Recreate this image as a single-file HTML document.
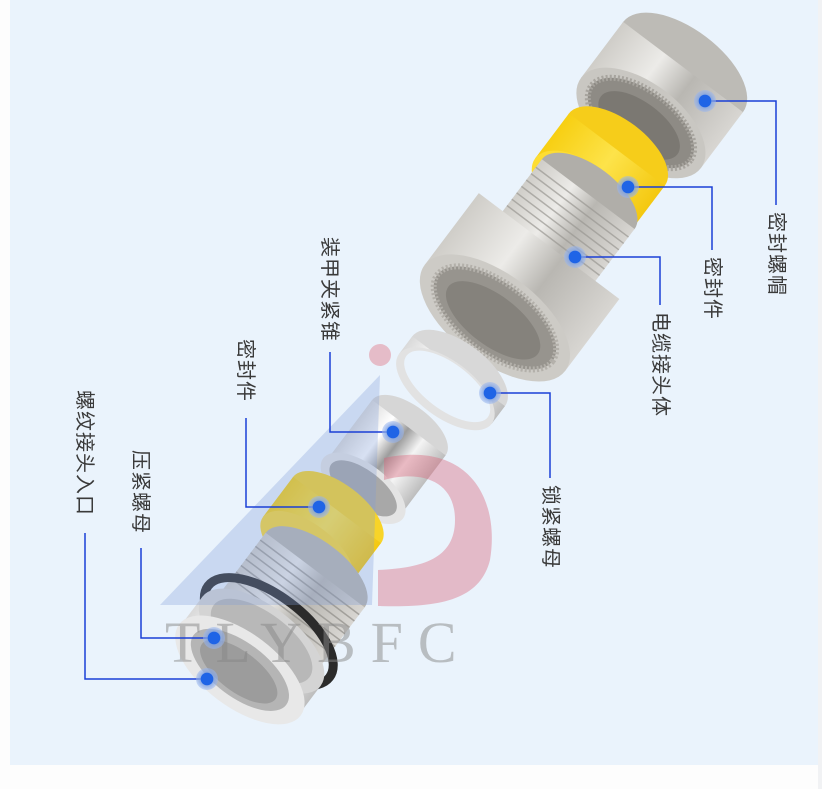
<!DOCTYPE html>
<html><head><meta charset="utf-8"><style>
html,body{margin:0;padding:0;background:#fdfdfd;}
body{width:822px;height:789px;position:relative;overflow:hidden;font-family:"Liberation Sans","Noto Sans CJK SC",sans-serif;}
#panel{position:absolute;left:10px;top:0;width:808px;height:765px;background:#eaf3fc;}
#strip{position:absolute;left:818px;top:0;width:4px;height:789px;background:#f1f2f4;}
svg{position:absolute;left:0;top:0;}
.lb{position:absolute;writing-mode:vertical-rl;text-orientation:sideways;font-size:20px;color:#3a3a3a;letter-spacing:1px;line-height:22px;}
</style></head><body>
<div id="panel"></div><div id="strip"></div>
<svg width="822" height="789" viewBox="0 0 822 789">
<defs>
<linearGradient id="met" x1="0" x2="1" y1="0" y2="0">
<stop offset="0" stop-color="#cfcdc8"/><stop offset=".35" stop-color="#ecebe8"/><stop offset=".6" stop-color="#b9b7b2"/><stop offset="1" stop-color="#d8d6d2"/></linearGradient>
<linearGradient id="shiny" x1="0" x2="1" y1="0" y2="0">
<stop offset="0" stop-color="#d9d9d9"/><stop offset=".3" stop-color="#ffffff"/><stop offset=".5" stop-color="#9c9c9c"/><stop offset=".7" stop-color="#f4f4f4"/><stop offset="1" stop-color="#bdbdbd"/></linearGradient>
<linearGradient id="yel" x1="0" x2="1" y1="0" y2="0">
<stop offset="0" stop-color="#f7cf12"/><stop offset=".5" stop-color="#fde34a"/><stop offset="1" stop-color="#f4c810"/></linearGradient>
<radialGradient id="dot"><stop offset=".55" stop-color="#1f64e6"/><stop offset=".6" stop-color="#7ea2e6" stop-opacity=".8"/><stop offset="1" stop-color="#9ab6ee" stop-opacity=".5"/></radialGradient>
</defs>

<!-- 1 top nut -->
<g transform="translate(662,95) rotate(37)">
<ellipse cx="0" cy="-35" rx="75" ry="38" fill="#bdbbb6"/>
<rect x="-75" y="-35" width="150" height="70" fill="url(#met)"/>
<ellipse cx="0" cy="35" rx="75" ry="40" fill="#c9c7c2"/>
<ellipse cx="0" cy="35" rx="62" ry="32" fill="#8e8b85" stroke="#a7a49e" stroke-width="6" stroke-dasharray="2 2"/>
<ellipse cx="0" cy="38" rx="48" ry="23" fill="#7b7872"/>
</g>
<!-- 2 yellow seal -->
<g transform="translate(600,172) rotate(37)">
<ellipse cx="0" cy="-28" rx="60" ry="30" fill="#f6cd1a"/>
<rect x="-60" y="-28" width="120" height="56" fill="url(#yel)"/>
<ellipse cx="0" cy="28" rx="60" ry="31" fill="#fddd33"/>
<ellipse cx="-5" cy="30" rx="28" ry="16" fill="#f2c200"/>
</g>
<!-- 3 body -->
<g transform="translate(522,282) rotate(37)">
<ellipse cx="0" cy="-110" rx="58" ry="28" fill="#b0aea9"/>
<rect x="-58" y="-110" width="116" height="70" fill="url(#met)"/>
<g stroke="#9a9893" stroke-width="1.5" opacity=".7"><line x1="-58" y1="-100" x2="58" y2="-100"/><line x1="-58" y1="-92" x2="58" y2="-92"/><line x1="-58" y1="-84" x2="58" y2="-84"/><line x1="-58" y1="-76" x2="58" y2="-76"/><line x1="-58" y1="-68" x2="58" y2="-68"/><line x1="-58" y1="-60" x2="58" y2="-60"/><line x1="-58" y1="-52" x2="58" y2="-52"/></g>
<rect x="-88" y="-45" width="176" height="90" fill="url(#met)"/>
<ellipse cx="0" cy="45" rx="88" ry="44" fill="#cdcbc6"/>
<ellipse cx="0" cy="45" rx="72" ry="35" fill="#97948e" stroke="#b3b0aa" stroke-width="6" stroke-dasharray="2 2"/>
<ellipse cx="0" cy="48" rx="56" ry="25" fill="#85827c"/>
</g>
<!-- 4 ring -->
<g transform="translate(452,380) rotate(37)">
<ellipse cx="0" cy="-11" rx="58" ry="28" fill="#d8d8d8"/>
<rect x="-58" y="-11" width="116" height="22" fill="url(#shiny)"/>
<ellipse cx="0" cy="11" rx="58" ry="28" fill="#e2e2e2"/>
<ellipse cx="0" cy="8" rx="51" ry="23" fill="#eaf3fc"/>
</g>
<!-- 5 cone -->
<g transform="translate(386,458) rotate(37)">
<ellipse cx="0" cy="-38" rx="46" ry="22" fill="#d6d6d6"/>
<rect x="-46" y="-38" width="92" height="76" fill="url(#shiny)"/>
<ellipse cx="0" cy="38" rx="50" ry="24" fill="#e4e4e4"/>
<ellipse cx="0" cy="38" rx="40" ry="18" fill="#a8a8a8"/>
</g>
<!-- 6 yellow seal -->
<g transform="translate(322,530) rotate(37)">
<ellipse cx="0" cy="-25" rx="55" ry="26" fill="#f8d428"/>
<rect x="-55" y="-25" width="110" height="50" fill="url(#yel)"/>
<ellipse cx="0" cy="25" rx="55" ry="26" fill="#fbd936"/>
</g>
<!-- 7 fitting -->
<g transform="translate(270,630) rotate(37)">
<ellipse cx="0" cy="-75" rx="62" ry="29" fill="#b8b6b1"/>
<rect x="-62" y="-75" width="124" height="75" fill="url(#met)"/>
<g stroke="#8f8d88" stroke-width="1.5" opacity=".7"><line x1="-62" y1="-66" x2="62" y2="-66"/><line x1="-62" y1="-58" x2="62" y2="-58"/><line x1="-62" y1="-50" x2="62" y2="-50"/><line x1="-62" y1="-42" x2="62" y2="-42"/><line x1="-62" y1="-34" x2="62" y2="-34"/><line x1="-62" y1="-26" x2="62" y2="-26"/><line x1="-62" y1="-18" x2="62" y2="-18"/></g>
<ellipse cx="0" cy="2" rx="76" ry="36" fill="none" stroke="#2b2b2b" stroke-width="9"/>
<rect x="-74" y="14" width="148" height="36" fill="url(#shiny)"/>
<ellipse cx="0" cy="14" rx="74" ry="35" fill="#d4d4d4"/>
<ellipse cx="0" cy="14" rx="60" ry="28" fill="#b8b8b8"/>
<ellipse cx="0" cy="50" rx="76" ry="37" fill="#e8e8e8"/>
<ellipse cx="0" cy="50" rx="58" ry="27" fill="#b5b5b5"/>
<ellipse cx="0" cy="52" rx="46" ry="20" fill="#9c9c9c"/>
</g>

<!-- watermark -->
<g>
<circle cx="380" cy="355" r="11" fill="#e07a8a" opacity=".45"/>
<polygon points="380,375 160,605 372,605" fill="#7f9bd6" opacity=".3"/>
<path d="M384,458 C470,440 500,500 490,560 C480,600 440,608 378,606 L378,570 C420,568 455,560 455,520 C455,480 420,470 384,480 Z" fill="#d9647b" opacity=".4"/>
<text x="165" y="662" font-family="Liberation Serif,serif" font-size="58" fill="#888" letter-spacing="15" opacity=".5">TLYBFC</text>
</g>

<!-- leader lines -->
<g stroke="#1a3fd6" stroke-width="1.5" fill="none">
<polyline points="705,101 776,101 776,205"/>
<polyline points="628,187 712,187 712,250"/>
<polyline points="575,257 660,257 660,305"/>
<polyline points="490,393 550,393 550,478"/>
<polyline points="330,352 330,432 393,432"/>
<polyline points="246,418 246,507 319,507"/>
<polyline points="141,548 141,638 214,638"/>
<polyline points="85,533 85,679 207,679"/>
</g>
<g fill="url(#dot)">
<circle cx="705" cy="101" r="11"/><circle cx="628" cy="187" r="11"/><circle cx="575" cy="257" r="11"/><circle cx="490" cy="393" r="11"/><circle cx="393" cy="432" r="11"/><circle cx="319" cy="507" r="11"/><circle cx="214" cy="638" r="11"/><circle cx="207" cy="679" r="11"/>
</g>
</svg>
<div class="lb" style="left:765px;top:212px;">密封螺帽</div>
<div class="lb" style="left:701px;top:257px;">密封件</div>
<div class="lb" style="left:649px;top:312px;">电缆接头体</div>
<div class="lb" style="left:539px;top:485px;">锁紧螺母</div>
<div class="lb" style="left:318px;top:237px;">装甲夹紧锥</div>
<div class="lb" style="left:234px;top:339px;">密封件</div>
<div class="lb" style="left:129px;top:450px;">压紧螺母</div>
<div class="lb" style="left:73px;top:390px;">螺纹接头入口</div>
</body></html>
